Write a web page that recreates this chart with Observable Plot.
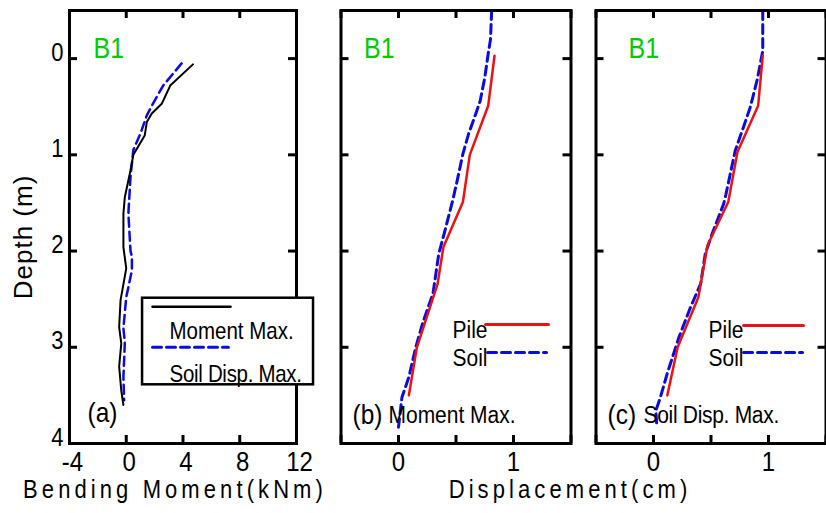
<!DOCTYPE html>
<html><head><meta charset="utf-8">
<script src="https://cdn.jsdelivr.net/npm/d3@7"></script>
<script src="https://cdn.jsdelivr.net/npm/@observablehq/plot@0.6"></script>
<style>
body{margin:0;background:#fff}
#wrap{position:relative;width:826px;height:513px;display:flex;overflow:hidden}
#wrap svg{overflow:visible;flex:none}
</style></head><body><div id="wrap"></div>
<script>
// ---------- data ----------
const depthTicks = [0, 1, 2, 3, 4];
const depthLabels = [0, 1, 2, 3, 4];
const momentTicks = [-4, 0, 4, 8, 12];
const momentLabels = [-4, 0, 4, 8, 12];
const dispTicks = [-0.5, 0, 0.5, 1, 1.5];
const dispLabels = [0, 1];

// (a) bending moment profiles (kNm) vs depth (m)
const aMomentMaxDepth = [0.06, 0.28, 0.47, 0.57, 0.66, 0.8, 1.0, 1.16, 1.44, 1.61, 1.96, 2.18, 2.51, 2.79, 2.96, 3.2, 3.45, 3.6];
const aMomentMaxValue = [4.7, 3.1, 2.5, 1.8, 1.45, 1.3, 0.5, 0.3, -0.1, -0.2, -0.2, 0.0, -0.4, -0.5, -0.35, -0.5, -0.35, -0.2];
const aSoilMaxDepth = [0.05, 0.28, 0.49, 0.59, 0.78, 0.95, 1.23, 1.61, 2.0, 2.06, 2.2, 2.48, 2.8, 2.95, 3.31, 3.55];
const aSoilMaxValue = [3.9, 2.6, 1.8, 1.45, 1.0, 0.5, 0.3, 0.15, 0.3, 0.4, 0.4, 0.0, -0.2, -0.1, -0.2, -0.15];

// (b) displacement (cm) at moment max
const bPileDepth = [-0.03, 0.49, 1.0, 1.49, 1.96, 2.34, 3.0, 3.5];
const bPileDisp = [0.835, 0.78, 0.62, 0.56, 0.39, 0.34, 0.16, 0.09];
const bSoilDepth = [-0.5, -0.2, -0.05, 0.2, 0.44, 0.58, 0.78, 0.99, 1.27, 1.48, 1.76, 2.03, 2.44, 2.75, 3.0, 3.31, 3.52, 3.83];
const bSoilDisp = [0.81, 0.80, 0.78, 0.75, 0.71, 0.67, 0.61, 0.56, 0.51, 0.47, 0.41, 0.35, 0.30, 0.21, 0.15, 0.09, 0.03, 0.0];

// (c) displacement (cm) at soil displacement max
const cPileDepth = [-0.03, 0.49, 0.97, 1.49, 1.94, 2.48, 3.0, 3.5];
const cPileDisp = [0.95, 0.91, 0.73, 0.65, 0.47, 0.39, 0.21, 0.12];
const cSoilDepth = [-0.5, -0.08, 0.23, 0.51, 0.72, 0.96, 1.41, 1.51, 1.82, 2.03, 2.34, 2.59, 2.9, 3.27, 3.52, 3.66, 3.83];
const cSoilDisp = [0.95, 0.95, 0.90, 0.84, 0.78, 0.71, 0.63, 0.61, 0.51, 0.45, 0.41, 0.32, 0.22, 0.12, 0.06, 0.02, 0.03];

// ---------- helpers ----------
const FONT = "Arial, 'Liberation Sans', Helvetica, sans-serif";
const BLUE = "#0a0ae6", RED = "#ee1111", GREEN = "#00cc00";
const DASH = "9,5";
const H = 513, MT = 10, MB = 70, FH = H - MT - MB;
const zipXY = (xs, ys) => xs.map((x, i) => ({x, y: ys[i]}));

function frameMarks(xTicks, fw) {
  const tl = 8, sw = 3;
  return [
    Plot.tickX(xTicks, {x: d => d, insetTop: FH - tl, strokeWidth: sw}),
    Plot.tickX(xTicks, {x: d => d, insetBottom: FH - tl, strokeWidth: sw}),
    Plot.tickY(depthTicks, {y: d => d, insetRight: fw - tl, strokeWidth: sw}),
    Plot.tickY(depthTicks, {y: d => d, insetLeft: fw - tl, strokeWidth: sw}),
    Plot.frame({stroke: "black", strokeWidth: 3})
  ];
}

function panel({width, ml, mr, xDomain, xTicks, xLabels, showY, xdx = 0, marks}) {
  const fw = width - ml - mr;
  return Plot.plot({
    width, height: H, marginTop: MT, marginBottom: MB, marginLeft: ml, marginRight: mr,
    style: {fontFamily: FONT, fontSize: "22px", color: "black", background: "transparent", overflow: "visible"},
    x: {domain: xDomain},
    y: {domain: [-0.5, 4], reverse: true},
    marks: [
      ...marks,
      ...frameMarks(xTicks, fw),
      Plot.axisX({ticks: xLabels, tickSize: 0, tickPadding: 9, dx: xdx, fontSize: 24, label: null, tickFormat: d => String(d)}),
      showY ? Plot.axisY({ticks: depthLabels, tickSize: 0, tickPadding: 6, dy: -6, fontSize: 22, label: null, tickFormat: d => String(d)}) : Plot.axisY({ticks: [], label: null}),
    ]
  });
}

const txt = (x, y, t, opts) => Plot.text([{x, y, t}], {x: "x", y: "y", text: "t", textAnchor: "start", fontFamily: FONT, ...opts});

// ---------- panel (a) ----------
const legA = {x1: 1.15, x2: 13.2, y1: 2.49, y2: 3.39};
const pa = panel({
  width: 330, ml: 69, mr: 34, xDomain: [-4, 12], xTicks: momentTicks, xLabels: momentLabels, showY: true, xdx: 3,
  marks: [
    Plot.line(zipXY(aSoilMaxValue, aSoilMaxDepth), {x: "x", y: "y", stroke: BLUE, strokeWidth: 2.5, strokeDasharray: DASH}),
    Plot.line(zipXY(aMomentMaxValue, aMomentMaxDepth), {x: "x", y: "y", stroke: "black", strokeWidth: 2}),
    txt(-2.31, -0.1, "B1", {fill: GREEN, fontSize: 25}),
    txt(-2.73, 3.68, "(a)", {fontSize: 24.5}),
  ]
});
// legend (drawn on top of frame)
const legendA = Plot.plot({
  width: 330, height: H, marginTop: MT, marginBottom: MB, marginLeft: 69, marginRight: 34,
  style: {fontFamily: FONT, background: "transparent", overflow: "visible"},
  x: {domain: [-4, 12], axis: null}, y: {domain: [-0.5, 4], reverse: true, axis: null},
  marks: [
    Plot.rect([legA], {x1: "x1", x2: "x2", y1: "y1", y2: "y2", fill: "white", stroke: "black", strokeWidth: 2.5}),
    Plot.line([{x: 1.85, y: 2.58}, {x: 7.35, y: 2.58}], {x: "x", y: "y", stroke: "black", strokeWidth: 2.5}),
    Plot.line([{x: 1.85, y: 3.0}, {x: 7.2, y: 3.0}], {x: "x", y: "y", stroke: BLUE, strokeWidth: 3, strokeDasharray: DASH}),
    txt(3.05, 2.836, "Moment Max.", {fontSize: 20.5}),
    txt(3.05, 3.28, "Soil Disp. Max.", {fontSize: 20.5}),
  ]
});

// ---------- panel (b) ----------
const pb = panel({
  width: 250, ml: 10.5, mr: 9.5, xDomain: [-0.5, 1.5], xTicks: dispTicks, xLabels: dispLabels, showY: false,
  marks: [
    Plot.line(zipXY(bSoilDisp, bSoilDepth), {x: "x", y: "y", stroke: BLUE, strokeWidth: 3, strokeDasharray: DASH}),
    Plot.line(zipXY(bPileDisp, bPileDepth), {x: "x", y: "y", stroke: RED, strokeWidth: 2.5}),
    txt(-0.30, -0.1, "B1", {fill: GREEN, fontSize: 25}),
    txt(0.47, 2.826, "Pile", {fontSize: 21}),
    txt(0.47, 3.117, "Soil", {fontSize: 21}),
    Plot.line([{x: 0.757, y: 2.763}, {x: 1.304, y: 2.763}], {x: "x", y: "y", stroke: RED, strokeWidth: 3}),
    Plot.line([{x: 0.774, y: 3.054}, {x: 1.287, y: 3.054}], {x: "x", y: "y", stroke: BLUE, strokeWidth: 3, strokeDasharray: DASH}),
    txt(-0.40, 3.70, "(b)", {fontSize: 24.5}),
    txt(-0.087, 3.71, "Moment Max.", {fontSize: 21}),
  ]
});

// ---------- panel (c) ----------
const pc = panel({
  width: 246, ml: 15.5, mr: 0.5, xDomain: [-0.5, 1.5], xTicks: dispTicks, xLabels: dispLabels, showY: false,
  marks: [
    Plot.line(zipXY(cSoilDisp, cSoilDepth), {x: "x", y: "y", stroke: BLUE, strokeWidth: 3, strokeDasharray: DASH}),
    Plot.line(zipXY(cPileDisp, cPileDepth), {x: "x", y: "y", stroke: RED, strokeWidth: 2.5}),
    txt(-0.217, -0.1, "B1", {fill: GREEN, fontSize: 25}),
    txt(0.478, 2.826, "Pile", {fontSize: 21}),
    txt(0.478, 3.117, "Soil", {fontSize: 21}),
    Plot.line([{x: 0.783, y: 2.774}, {x: 1.304, y: 2.774}], {x: "x", y: "y", stroke: RED, strokeWidth: 3}),
    Plot.line([{x: 0.783, y: 3.054}, {x: 1.296, y: 3.054}], {x: "x", y: "y", stroke: BLUE, strokeWidth: 3, strokeDasharray: DASH}),
    txt(-0.40, 3.70, "(c)", {fontSize: 24.5}),
    txt(-0.087, 3.71, "Soil Disp. Max.", {fontSize: 21}),
    Plot.text(["Displacement(cm)"], {frameAnchor: "bottom-left", textAnchor: "middle", dx: -26, dy: 53, fontSize: 22, fontFamily: FONT}),
  ]
});

// axis titles for (a)
const titlesA = Plot.plot({
  width: 330, height: H, marginTop: MT, marginBottom: MB, marginLeft: 69, marginRight: 34,
  style: {fontFamily: FONT, background: "transparent", overflow: "visible"},
  x: {domain: [-4, 12], axis: null}, y: {domain: [-0.5, 4], reverse: true, axis: null},
  marks: [
    Plot.text(["Bending Moment(kNm)"], {frameAnchor: "bottom", textAnchor: "middle", dx: -8, dy: 53, fontSize: 22, fontFamily: FONT}),
    Plot.text(["Depth (m)"], {frameAnchor: "left", rotate: -90, textAnchor: "middle", dx: -45.5, dy: 10, fontSize: 26, fontFamily: FONT}),
  ]
});

const wrap = document.getElementById("wrap");
const holderA = document.createElement("div");
holderA.style.cssText = "position:relative;width:330px;height:513px;flex:none";
[pa, legendA, titlesA].forEach(s => { s.style.position = "absolute"; s.style.left = "0"; s.style.top = "0"; holderA.appendChild(s); });
wrap.appendChild(holderA);
wrap.appendChild(pb);
wrap.appendChild(pc);

// letter spacing tweaks and the reference's slightly tall glyph shape
const STRETCH = 1.15;
d3.selectAll("#wrap text").each(function() {
  const t = this.textContent;
  if (t === "Bending Moment(kNm)" || t === "Displacement(cm)") this.setAttribute("letter-spacing", "4.1");
  else if (t === "Depth (m)") this.setAttribute("letter-spacing", "1");
  else if (t === "Moment Max." && this.getAttribute("font-size") === "20.5") this.setAttribute("letter-spacing", "-0.2");
  else if (t === "Soil Disp. Max.") this.setAttribute("letter-spacing", "-0.3");
  if (t === "Depth (m)" || !t.trim()) return;
  const bb = this.getBBox();
  const cy = bb.y + bb.height / 2;
  const tr = this.getAttribute("transform") || "";
  this.setAttribute("transform", `${tr} translate(0,${cy}) scale(1,${STRETCH}) translate(0,${-cy})`);
});
</script></body></html>
